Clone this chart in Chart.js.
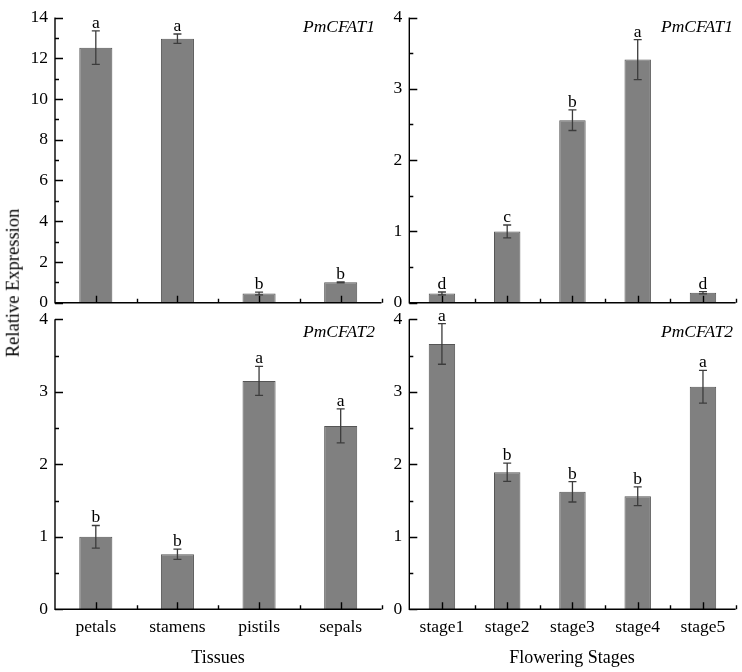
<!DOCTYPE html>
<html>
<head>
<meta charset="utf-8">
<script src="https://cdn.jsdelivr.net/npm/chart.js@4/dist/chart.umd.min.js"></script>
<style>
  body { margin: 0; background: #fff; }
  #wrap { position: relative; width: 742px; height: 672px; overflow: hidden; }
  #wrap canvas { position: absolute; left: 0; top: 0; }
  .ttl { position: absolute; font-family: 'Liberation Serif', 'Times New Roman', serif; font-size: 18px; color: #000; white-space: nowrap; line-height: 1; }
</style>
</head>
<body>
<div id="wrap">
  <canvas id="cTL" width="742" height="672"></canvas>
  <canvas id="cTR" width="742" height="672"></canvas>
  <canvas id="cBL" width="742" height="672"></canvas>
  <canvas id="cBR" width="742" height="672"></canvas>
  <div class="ttl" id="yTitle" style="left:13px;top:283px;transform:translate(-50%,-50%) rotate(-90deg);font-size:18.5px">Relative Expression</div>
  <div class="ttl" style="left:218px;top:657px;transform:translate(-50%,-50%)">Tissues</div>
  <div class="ttl" style="left:572px;top:657px;transform:translate(-50%,-50%)">Flowering Stages</div>
</div>
<script>
const tissues = ['petals', 'stamens', 'pistils', 'sepals'];
const stages = ['stage1', 'stage2', 'stage3', 'stage4', 'stage5'];

// PmCFAT1
const cfat1Tissue = [12.52, 12.96, 0.45, 1.0];
const cfat1TissueErr = [0.82, 0.23, 0.07, 0.02];
const cfat1TissueSig = ['a', 'a', 'b', 'b'];
const cfat1Stage = [0.13, 1.0, 2.56, 3.41, 0.14];
const cfat1StageErr = [0.02, 0.09, 0.145, 0.28, 0.015];
const cfat1StageSig = ['d', 'c', 'b', 'a', 'd'];

// PmCFAT2
const cfat2Tissue = [1.0, 0.76, 3.15, 2.53];
const cfat2TissueErr = [0.156, 0.07, 0.2, 0.235];
const cfat2TissueSig = ['b', 'b', 'a', 'a'];
const cfat2Stage = [3.66, 1.89, 1.62, 1.56, 3.07];
const cfat2StageErr = [0.28, 0.125, 0.14, 0.13, 0.225];
const cfat2StageSig = ['a', 'b', 'b', 'b', 'a'];

const SERIF = "'Liberation Serif', 'Times New Roman', serif";

/* error bars, significance letters, inward ticks and the gene name */
const decor = {
  id: 'decor',
  afterDatasetsDraw(chart, args, o) {
    const { ctx, chartArea: a, scales: { x, y } } = chart;
    const meta = chart.getDatasetMeta(0);
    ctx.save();
    ctx.lineCap = 'butt';
    // error bars
    ctx.strokeStyle = '#3c3c3c';
    ctx.lineWidth = 1.3;
    ctx.fillStyle = '#000';
    ctx.font = `17.5px ${SERIF}`;
    ctx.textAlign = 'center';
    ctx.textBaseline = 'alphabetic';
    o.values.forEach((v, i) => {
      const px = meta.data[i].x;
      const top = y.getPixelForValue(v + o.err[i]);
      const bot = y.getPixelForValue(Math.max(v - o.err[i], 0));
      ctx.beginPath();
      ctx.moveTo(px, top); ctx.lineTo(px, bot);
      ctx.moveTo(px - 4, top); ctx.lineTo(px + 4, top);
      ctx.moveTo(px - 4, bot); ctx.lineTo(px + 4, bot);
      ctx.stroke();
      ctx.fillText(o.sig[i], px, top - 3);
    });
    // axes
    ctx.strokeStyle = '#000';
    ctx.lineWidth = 1.4;
    ctx.beginPath();
    ctx.moveTo(a.left, a.top); ctx.lineTo(a.left, a.bottom); ctx.lineTo(a.right, a.bottom);
    // y ticks (major + minor, inward)
    for (let v = 0; v <= o.max + 1e-9; v += o.step / 2) {
      const py = Math.round(y.getPixelForValue(v)) + 0.5;
      const major = Math.abs(v / o.step - Math.round(v / o.step)) < 1e-6;
      ctx.moveTo(a.left, py); ctx.lineTo(a.left + (major ? 8 : 4), py);
    }
    // x ticks (category centres + boundaries, inward)
    const n = o.values.length;
    for (let i = 0; i < n; i++) {
      const cx = Math.round(x.getPixelForValue(i)) + 0.5;
      ctx.moveTo(cx, a.bottom); ctx.lineTo(cx, a.bottom - 7);
      const bx = Math.round(x.getPixelForValue(i + 0.5)) + 0.5;
      ctx.moveTo(bx, a.bottom); ctx.lineTo(bx, a.bottom - 4);
    }
    ctx.stroke();
    // gene label
    ctx.font = `italic 17.5px ${SERIF}`;
    ctx.textAlign = 'right';
    ctx.fillText(o.gene, a.right - o.geneDx, a.top + o.geneDy);
    ctx.restore();
  }
};

function makePanel(id, labels, values, err, sig, gene, opt) {
  return new Chart(document.getElementById(id), {
    type: 'bar',
    data: {
      labels,
      datasets: [{
        data: values,
        backgroundColor: '#808080',
        borderColor: '#555555',
        borderWidth: 1,
        barPercentage: 0.405,
        categoryPercentage: 1
      }]
    },
    options: {
      responsive: false,
      animation: false,
      devicePixelRatio: 1,
      layout: { padding: opt.pad },
      plugins: {
        legend: { display: false },
        tooltip: { enabled: false },
        decor: { values, err, sig, gene, max: opt.max, step: opt.step, geneDx: opt.geneDx, geneDy: opt.geneDy }
      },
      scales: {
        x: {
          offset: true,
          border: { display: false },
          grid: { display: false, drawTicks: false },
          ticks: { display: opt.xH > 0, padding: 8, color: '#000', font: { family: SERIF, size: 17.5 }, maxRotation: 0, autoSkip: false },
          afterFit: s => { s.height = opt.xH; }
        },
        y: {
          min: 0, max: opt.max,
          border: { display: false },
          grid: { display: false, drawTicks: false },
          ticks: { stepSize: opt.step, padding: 7, color: '#000', font: { family: SERIF, size: 17.5 }, autoSkip: false },
          afterFit: s => { s.width = 40; }
        }
      }
    },
    plugins: [decor]
  });
}

// chart areas: left panels x 55..381.5, right panels x 409.3..735.6
// top row y 12.7..302.7, bottom row y 319.3..609.3
makePanel('cTL', tissues, cfat1Tissue, cfat1TissueErr, cfat1TissueSig, 'PmCFAT1',
  { pad: { left: 15, right: 360.5, top: 12.7, bottom: 369.3 }, xH: 0, max: 14, step: 2, geneDx: 6.5, geneDy: 14 });
makePanel('cTR', stages, cfat1Stage, cfat1StageErr, cfat1StageSig, 'PmCFAT1',
  { pad: { left: 369.3, right: 6.4, top: 12.7, bottom: 369.3 }, xH: 0, max: 4, step: 1, geneDx: 2.6, geneDy: 14 });
makePanel('cBL', tissues, cfat2Tissue, cfat2TissueErr, cfat2TissueSig, 'PmCFAT2',
  { pad: { left: 15, right: 360.5, top: 319.3, bottom: 17.7 }, xH: 45, max: 4, step: 1, geneDx: 6.5, geneDy: 17.4 });
makePanel('cBR', stages, cfat2Stage, cfat2StageErr, cfat2StageSig, 'PmCFAT2',
  { pad: { left: 369.3, right: 6.4, top: 319.3, bottom: 17.7 }, xH: 45, max: 4, step: 1, geneDx: 2.6, geneDy: 17.4 });
</script>
</body>
</html>
